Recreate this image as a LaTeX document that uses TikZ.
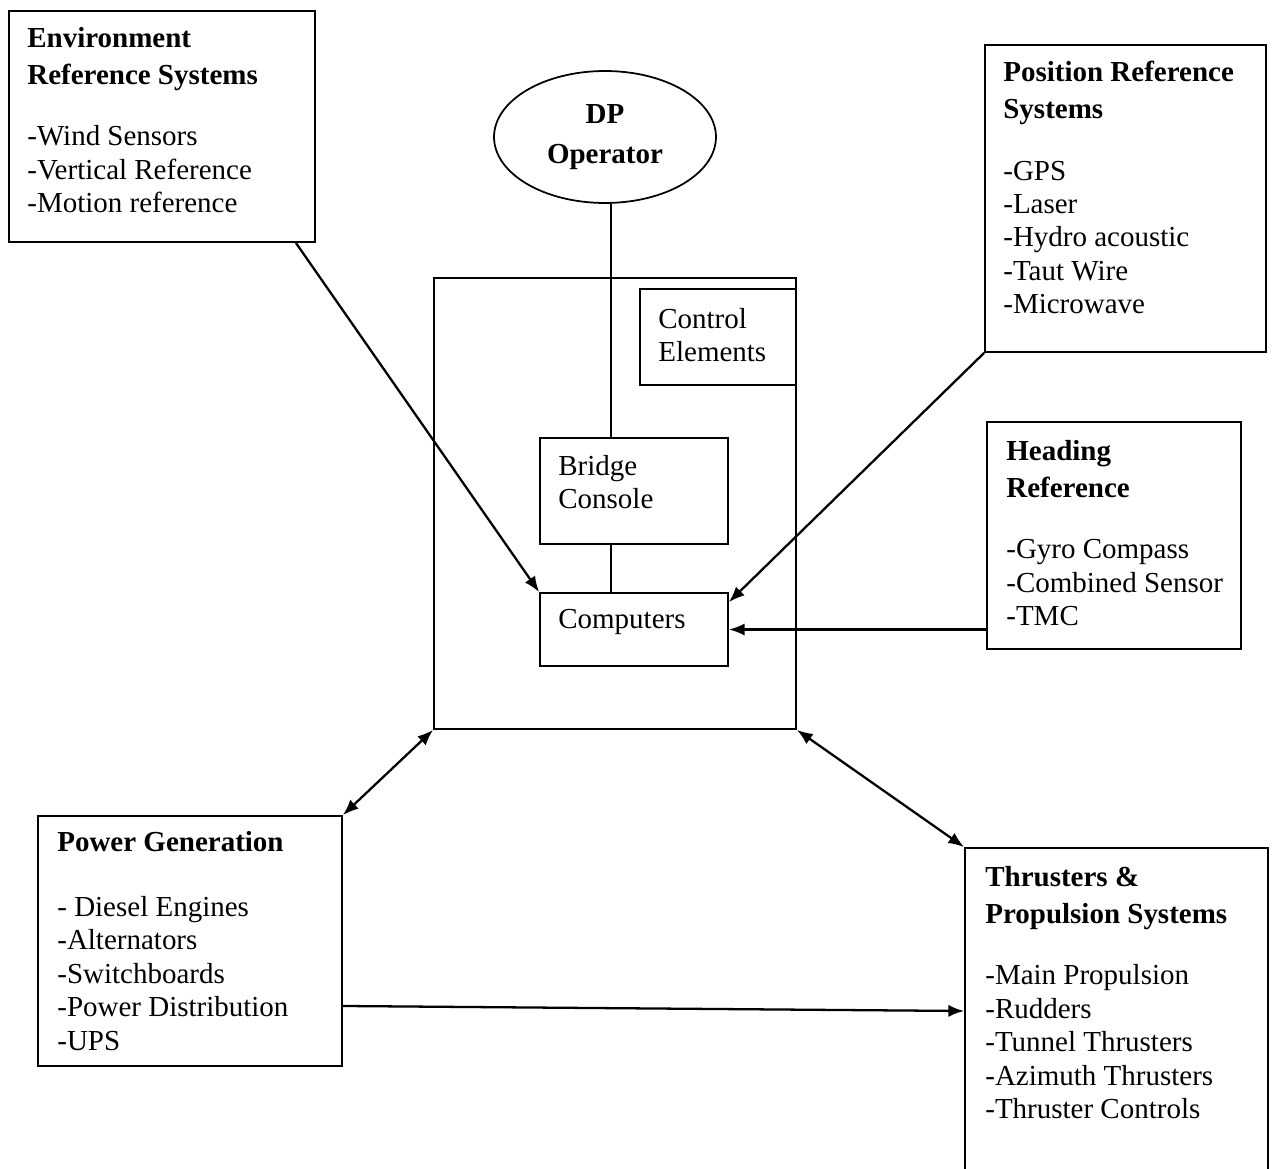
\documentclass[tikz,border=0pt]{standalone}
\usepackage{fontspec}
\setmainfont{Liberation Serif}
\usetikzlibrary{arrows.meta,positioning,calc,fit,shapes.geometric}

\begin{document}
\begin{tikzpicture}[x=0.02cm,y=-0.02cm,font=\fontsize{16.5}{19}\selectfont,
  sysbox/.style={draw,line width=1pt,inner sep=0pt},
  systext/.style={anchor=north west,align=left,inner sep=0pt},
  arr/.style={line width=1.3pt,-{Latex[length=9pt,width=7pt]}},
  dblarr/.style={line width=1.3pt,{Latex[length=9pt,width=7pt]}-{Latex[length=9pt,width=7pt]}}]
  \useasboundingbox (0,0) rectangle (1275,1169);
  \clip (0,0) rectangle (1275,1169);

  % outer boxes
  \node[sysbox,fit={(9,11) (315,242)}] (env) {};
  \node[systext] (envtxt) at (27,27) {\textbf{Environment}\\[2pt]\textbf{Reference Systems}\\[16pt]
    -Wind Sensors\\-Vertical Reference\\-Motion reference};

  \node[sysbox,fit={(985,45) (1266,352)}] (pos) {};
  \node[systext] (postxt) at (1003,61) {\textbf{Position Reference}\\[2pt]\textbf{Systems}\\[16pt]
    -GPS\\-Laser\\-Hydro acoustic\\-Taut Wire\\-Microwave};

  \node[sysbox,fit={(987,422) (1241,649)}] (head) {};
  \node[systext] (headtxt) at (1006,440) {\textbf{Heading}\\[2pt]\textbf{Reference}\\[16pt]
    -Gyro Compass\\-Combined Sensor\\-TMC};

  \node[sysbox,fit={(38,816) (342,1066)}] (pow) {};
  \node[systext] (powtxt) at (57,831) {\textbf{Power Generation}\\[18pt]
    - Diesel Engines\\-Alternators\\-Switchboards\\-Power Distribution\\-UPS};

  \node[sysbox,fit={(965,848) (1268,1200)}] (thr) {};
  \node[systext] (thrtxt) at (985,866) {\textbf{Thrusters \&}\\[2pt]\textbf{Propulsion Systems}\\[16pt]
    -Main Propulsion\\-Rudders\\-Tunnel Thrusters\\-Azimuth Thrusters\\-Thruster Controls};

  % DP control system
  \node[draw,ellipse,line width=1pt,minimum width=4.44cm,minimum height=2.64cm,align=center] (op)
    at (605,137) {\textbf{DP}\\[4pt]\textbf{Operator}};
  \node[sysbox,fit={(434,278) (796,729)}] (dp) {};
  \node[sysbox,fit={(640,289) (796,385)}] (ctrl) {};
  \node[systext] (ctrltxt) at (658,308) {Control\\Elements};
  \node[sysbox,fit={(540,438) (728,544)}] (bridge) {};
  \node[systext] (bridgetxt) at (558,455) {Bridge\\Console};
  \node[sysbox,fit={(540,593) (728,666)}] (comp) {};
  \node[systext] (comptxt) at (558,609) {Computers};

  \coordinate (spine) at (611,0);
  \draw[line width=1pt] (op.south -| spine) -- (bridge.north -| spine);
  \draw[line width=1pt] (bridge.south -| spine) -- (comp.north -| spine);

  % signals
  \draw[arr] ([xshift=-0.4cm]env.south east) -- (comp.north west);
  \draw[arr] (pos.south west) -- ([yshift=-0.2cm]comp.north east);
  \draw[arr] (comp.east -| head.west) -- (comp.east);
  \draw[dblarr] (dp.south west) -- (pow.north east);
  \draw[dblarr] (dp.south east) -- (thr.north west);
  \draw[arr] ([yshift=-1.3cm]pow.east) -- ([yshift=0.26cm]thr.west);
\end{tikzpicture}
\end{document}
